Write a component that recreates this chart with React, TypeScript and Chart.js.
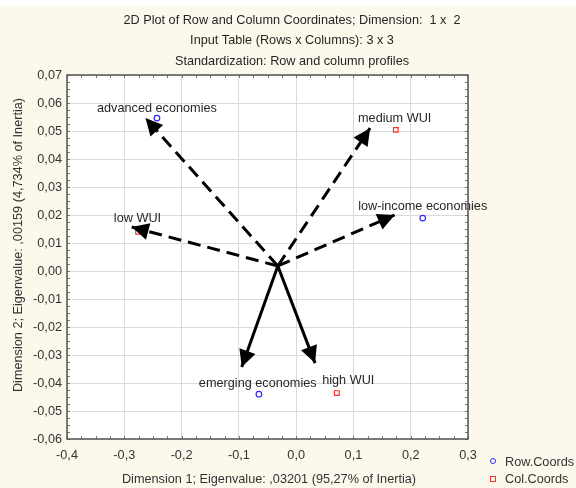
import React, { useEffect, useRef } from "react";
import { Chart, registerables } from "chart.js";

Chart.register(...registerables);

// ---- data ----
const titleLines = [
  "2D Plot of Row and Column Coordinates; Dimension:  1 x  2",
  "Input Table (Rows x Columns): 3 x 3",
  "Standardization: Row and column profiles",
];
const xAxisTitle = "Dimension 1; Eigenvalue: ,03201 (95,27% of Inertia)";
const yAxisTitle = "Dimension 2; Eigenvalue: ,00159 (4,734% of Inertia)";

const rowLabels = ["advanced economies", "low-income economies", "emerging economies"];
const rowX = [-0.243, 0.221, -0.065];
const rowY = [0.0546, 0.0189, -0.044];
const rowLabelX = [-0.243, 0.221, -0.067];
const rowLabelY = [0.0582, 0.0229, -0.0403];

const colLabels = ["medium WUI", "low WUI", "high WUI"];
const colX = [0.174, -0.276, 0.071];
const colY = [0.0504, 0.014, -0.0436];
const colLabelX = [0.172, -0.277, 0.091];
const colLabelY = [0.0546, 0.0186, -0.0391];

const arrowOriginX = -0.032;
const arrowOriginY = 0.0018;
const arrowTipX = [-0.263, 0.129, 0.172, -0.287, -0.095, 0.033];
const arrowTipY = [0.0546, 0.051, 0.02, 0.0157, -0.0343, -0.0329];
const arrowDashed = [true, true, true, true, false, false];

const legendLabels = ["Row.Coords", "Col.Coords"];

const X_MIN = -0.4, X_MAX = 0.3, X_STEP = 0.1;
const Y_MIN = -0.06, Y_MAX = 0.07, Y_STEP = 0.01;

const FONT = "'Liberation Sans', Arial, sans-serif";
const FS = 12.7;
const BLUE = "#2a2aff";
const RED = "#ff3333";

const fmt = (v: number, d: number) => {
  const n = Math.abs(v) < 1e-9 ? 0 : v;
  return n.toFixed(d).replace(".", ",");
};

const decor = {
  id: "decor",
  beforeDraw(chart: any) {
    const { ctx, chartArea: a } = chart;
    ctx.save();
    ctx.fillStyle = "#ffffff";
    ctx.fillRect(0, 0, chart.width, chart.height);
    ctx.fillStyle = "#fdf8ec";
    ctx.fillRect(0, 6, chart.width, chart.height - 6);
    ctx.fillStyle = "#ffffff";
    ctx.fillRect(a.left, a.top, a.right - a.left, a.bottom - a.top);
    ctx.restore();
  },
  afterDatasetsDraw(chart: any) {
    const { ctx } = chart;
    const xs = chart.scales.x, ys = chart.scales.y;
    const ox = xs.getPixelForValue(arrowOriginX);
    const oy = ys.getPixelForValue(arrowOriginY);
    ctx.save();
    ctx.fillStyle = "#000";
    arrowTipX.forEach((tx0, i) => {
      const tx = xs.getPixelForValue(tx0);
      const ty = ys.getPixelForValue(arrowTipY[i]);
      const ang = Math.atan2(ty - oy, tx - ox);
      const L = 17, W = 8.5;
      const bx = tx - L * Math.cos(ang), by = ty - L * Math.sin(ang);
      ctx.beginPath();
      ctx.moveTo(tx, ty);
      ctx.lineTo(bx + W * Math.sin(ang), by - W * Math.cos(ang));
      ctx.lineTo(bx - W * Math.sin(ang), by + W * Math.cos(ang));
      ctx.closePath();
      ctx.fill();
    });
    // point labels
    ctx.font = `${FS}px ${FONT}`;
    ctx.fillStyle = "#262626";
    ctx.textAlign = "center";
    ctx.textBaseline = "middle";
    rowLabels.forEach((t, i) => {
      ctx.fillText(t, xs.getPixelForValue(rowLabelX[i]), ys.getPixelForValue(rowLabelY[i]));
    });
    colLabels.forEach((t, i) => {
      ctx.fillText(t, xs.getPixelForValue(colLabelX[i]), ys.getPixelForValue(colLabelY[i]));
    });
    ctx.restore();
  },
  afterDraw(chart: any) {
    const { ctx, chartArea: a } = chart;
    const xs = chart.scales.x, ys = chart.scales.y;
    ctx.save();
    // minor ticks
    ctx.strokeStyle = "#777";
    ctx.lineWidth = 1;
    ctx.beginPath();
    for (let v = X_MIN; v <= X_MAX + 1e-9; v += X_STEP / 4) {
      const p = Math.round(xs.getPixelForValue(v)) + 0.5;
      ctx.moveTo(p, a.top); ctx.lineTo(p, a.top + 3);
      ctx.moveTo(p, a.bottom); ctx.lineTo(p, a.bottom - 3);
    }
    for (let v = Y_MIN; v <= Y_MAX + 1e-9; v += Y_STEP / 4) {
      const p = Math.round(ys.getPixelForValue(v)) + 0.5;
      ctx.moveTo(a.left, p); ctx.lineTo(a.left + 3, p);
      ctx.moveTo(a.right, p); ctx.lineTo(a.right - 3, p);
    }
    ctx.stroke();
    // border
    ctx.strokeStyle = "#555";
    ctx.lineWidth = 1.5;
    ctx.strokeRect(a.left, a.top, a.right - a.left, a.bottom - a.top);
    // title
    ctx.fillStyle = "#262626";
    ctx.font = `${FS}px ${FONT}`;
    ctx.textAlign = "center";
    ctx.textBaseline = "middle";
    titleLines.forEach((t, i) => ctx.fillText(t, 292, 20 + i * 20.5));
    // axis titles
    ctx.fillStyle = "#333";
    ctx.fillText(xAxisTitle, 269, 479);
    ctx.translate(18, 245);
    ctx.rotate(-Math.PI / 2);
    ctx.fillText(yAxisTitle, 0, 0);
    ctx.setTransform(1, 0, 0, 1, 0, 0);
    // legend
    ctx.textAlign = "left";
    ctx.lineWidth = 1;
    ctx.strokeStyle = BLUE;
    ctx.beginPath();
    ctx.arc(493, 461, 2.5, 0, Math.PI * 2);
    ctx.stroke();
    ctx.strokeStyle = RED;
    ctx.strokeRect(490.5, 476.5, 5, 5);
    ctx.fillStyle = "#333";
    ctx.fillText(legendLabels[0], 505, 462);
    ctx.fillText(legendLabels[1], 505, 479);
    ctx.restore();
  },
};

export default function App() {
  const ref = useRef<HTMLCanvasElement | null>(null);
  useEffect(() => {
    document.body.style.margin = "0";
    const canvas = ref.current;
    if (!canvas) return;
    const arrowSets = arrowTipX.map((tx, i) => ({
      type: "line" as const,
      data: [
        { x: arrowOriginX, y: arrowOriginY },
        { x: tx, y: arrowTipY[i] },
      ],
      borderColor: "#000",
      borderWidth: 3,
      borderDash: arrowDashed[i] ? [13, 7] : [],
      pointRadius: 0,
      showLine: true,
      fill: false,
      order: 2,
    }));
    const chart = new Chart(canvas, {
      type: "scatter",
      data: {
        datasets: [
          ...arrowSets,
          {
            label: legendLabels[0],
            data: rowX.map((x, i) => ({ x, y: rowY[i] })),
            pointStyle: "circle",
            pointRadius: 2.8,
            borderColor: BLUE,
            backgroundColor: "rgba(0,0,0,0)",
            borderWidth: 1.2,
            order: 1,
          },
          {
            label: legendLabels[1],
            data: colX.map((x, i) => ({ x, y: colY[i] })),
            pointStyle: "rect",
            pointRadius: 3.3,
            borderColor: RED,
            backgroundColor: "rgba(0,0,0,0)",
            borderWidth: 1.2,
            order: 1,
          },
        ] as any,
      },
      options: {
        animation: false,
        responsive: false,
        events: [],
        layout: { padding: { top: 75, right: 108, left: 0, bottom: 0 } },
        plugins: {
          legend: { display: false },
          title: { display: false },
          tooltip: { enabled: false },
        },
        scales: {
          x: {
            type: "linear",
            min: X_MIN,
            max: X_MAX,
            afterFit: (s: any) => { s.height = 49; },
            grid: { color: "#dadada", drawTicks: false },
            border: { display: false },
            ticks: {
              stepSize: X_STEP,
              padding: 9,
              color: "#333",
              font: { family: FONT, size: FS },
              callback: (v: any) => fmt(Number(v), 1),
            },
          },
          y: {
            type: "linear",
            min: Y_MIN,
            max: Y_MAX,
            afterFit: (s: any) => { s.width = 67; },
            grid: { color: "#dadada", drawTicks: false },
            border: { display: false },
            ticks: {
              stepSize: Y_STEP,
              padding: 5,
              color: "#333",
              font: { family: FONT, size: FS },
              callback: (v: any) => fmt(Number(v), 2),
            },
          },
        },
      } as any,
      plugins: [decor],
    });
    return () => chart.destroy();
  }, []);
  return (
    <div style={{ width: 576, height: 488 }}>
      <canvas ref={ref} width={576} height={488} />
    </div>
  );
}
